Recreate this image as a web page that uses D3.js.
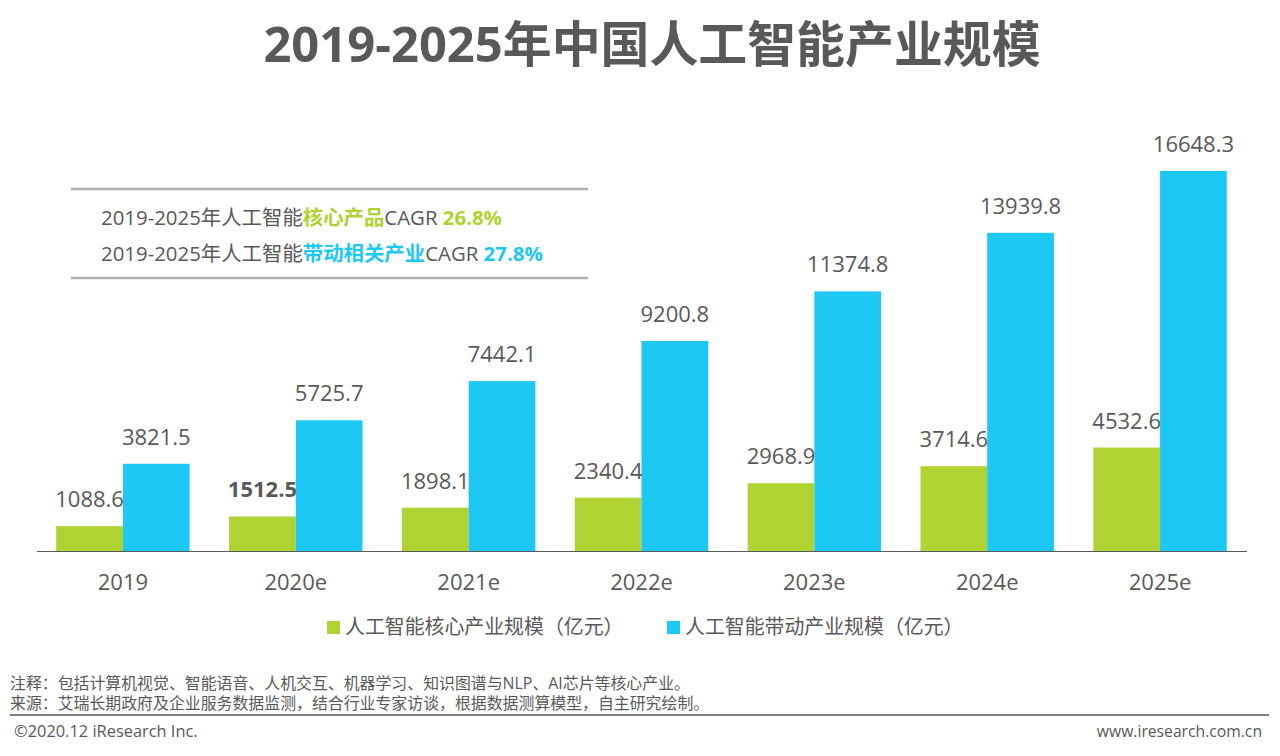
<!DOCTYPE html>
<html>
<head>
<meta charset="utf-8">
<script src="https://cdn.jsdelivr.net/npm/d3@7"></script>
<style>
html, body { margin: 0; padding: 0; background: #fff; }
text { font-family: "Open Sans", "Noto Sans CJK SC", sans-serif; fill: #595959; }
</style>
</head>
<body>
<div id="chart-area"></div>
<script>
var categories = ["2019", "2020e", "2021e", "2022e", "2023e", "2024e", "2025e"];
var coreValues = [1088.6, 1512.5, 1898.1, 2340.4, 2968.9, 3714.6, 4532.6];
var relatedValues = [3821.5, 5725.7, 7442.1, 9200.8, 11374.8, 13939.8, 16648.3];
var seriesNames = ["人工智能核心产业规模（亿元）", "人工智能带动产业规模（亿元）"];
var colors = ["#b0d233", "#1dc8f5"];
var boldCategory = "2020e";

var svg = d3.select("#chart-area")
	.append("svg")
	.attr("width", 1280)
	.attr("height", 756)
	.style("display", "block");

var x = d3.scaleBand()
	.domain(categories)
	.range([36.5, 1246.5])
	.paddingInner(0.228)
	.paddingOuter(0.114);
var y = d3.scaleLinear()
	.domain([0, 16648.3])
	.range([551, 171]);
var barW = x.bandwidth() / 2;

// title
svg.append("text")
	.attr("x", 652).attr("y", 62)
	.attr("text-anchor", "middle")
	.attr("font-size", 48.9)
	.attr("font-weight", 700)
	.text("2019-2025年中国人工智能产业规模");

// cagr box
svg.selectAll(".boxline")
	.data([189, 278])
	.enter().append("line")
	.attr("x1", 71).attr("x2", 588)
	.attr("y1", (d) => d).attr("y2", (d) => d)
	.attr("stroke", "#b0b0b0").attr("stroke-width", 2.5);

var cagrLines = [
	{ pre: "2019-2025年人工智能", key: "核心产品", rate: "26.8%", color: colors[0], y: 225 },
	{ pre: "2019-2025年人工智能", key: "带动相关产业", rate: "27.8%", color: colors[1], y: 261 }
];
cagrLines.forEach((d) => {
	var t = svg.append("text").attr("x", 101).attr("y", d.y).attr("font-size", 20.4);
	t.append("tspan").text(d.pre);
	t.append("tspan").attr("font-weight", 700).style("fill", d.color).text(d.key);
	t.append("tspan").text("CAGR ");
	t.append("tspan").attr("font-weight", 700).style("fill", d.color).text(d.rate);
});

// bars
svg.selectAll(".core")
	.data(coreValues)
	.enter().append("rect")
	.attr("x", (d, i) => x(categories[i]))
	.attr("y", (d) => y(d))
	.attr("width", barW)
	.attr("height", (d) => y(0) - y(d))
	.attr("fill", colors[0]);
svg.selectAll(".related")
	.data(relatedValues)
	.enter().append("rect")
	.attr("x", (d, i) => x(categories[i]) + barW)
	.attr("y", (d) => y(d))
	.attr("width", barW)
	.attr("height", (d) => y(0) - y(d))
	.attr("fill", colors[1]);

// value labels
svg.selectAll(".coreLabel")
	.data(coreValues)
	.enter().append("text")
	.attr("x", (d, i) => x(categories[i]) + barW / 2)
	.attr("y", (d) => y(d) - 19)
	.attr("text-anchor", "middle")
	.attr("font-size", 22)
	.attr("font-weight", (d, i) => categories[i] === boldCategory ? 700 : 400)
	.text((d) => d3.format(".1f")(d));
svg.selectAll(".relatedLabel")
	.data(relatedValues)
	.enter().append("text")
	.attr("x", (d, i) => x(categories[i]) + barW * 1.5)
	.attr("y", (d) => y(d) - 19)
	.attr("text-anchor", "middle")
	.attr("font-size", 22)
	.text((d) => d3.format(".1f")(d));

// axis
var axis = svg.append("g")
	.attr("transform", "translate(0,551)")
	.call(d3.axisBottom(x).tickSize(0).tickPadding(23));
axis.select(".domain").attr("stroke", "#595959").attr("stroke-width", 1.2);
axis.selectAll("text")
	.attr("font-size", 22)
	.style("font-family", "\"Open Sans\", \"Noto Sans CJK SC\", sans-serif");

// legend
var legendX = [327, 667];
seriesNames.forEach((name, i) => {
	svg.append("rect")
		.attr("x", legendX[i]).attr("y", 621)
		.attr("width", 13).attr("height", 13)
		.attr("fill", colors[i]);
	svg.append("text")
		.attr("x", legendX[i] + 18).attr("y", 634)
		.attr("font-size", 19.9)
		.text(name);
});

// footer
svg.append("text").attr("x", 10).attr("y", 689).attr("font-size", 15.9)
	.text("注释：包括计算机视觉、智能语音、人机交互、机器学习、知识图谱与NLP、AI芯片等核心产业。");
svg.append("text").attr("x", 10).attr("y", 709).attr("font-size", 15.9)
	.text("来源：艾瑞长期政府及企业服务数据监测，结合行业专家访谈，根据数据测算模型，自主研究绘制。");
svg.append("line")
	.attr("x1", 10).attr("x2", 1269)
	.attr("y1", 715).attr("y2", 715)
	.attr("stroke", "#7f7f7f").attr("stroke-width", 2);
svg.append("text").attr("x", 14).attr("y", 737).attr("font-size", 16.4)
	.text("©2020.12 iResearch Inc.");
svg.append("text").attr("x", 1262).attr("y", 737).attr("font-size", 15.7)
	.attr("text-anchor", "end")
	.text("www.iresearch.com.cn");
</script>
</body>
</html>
